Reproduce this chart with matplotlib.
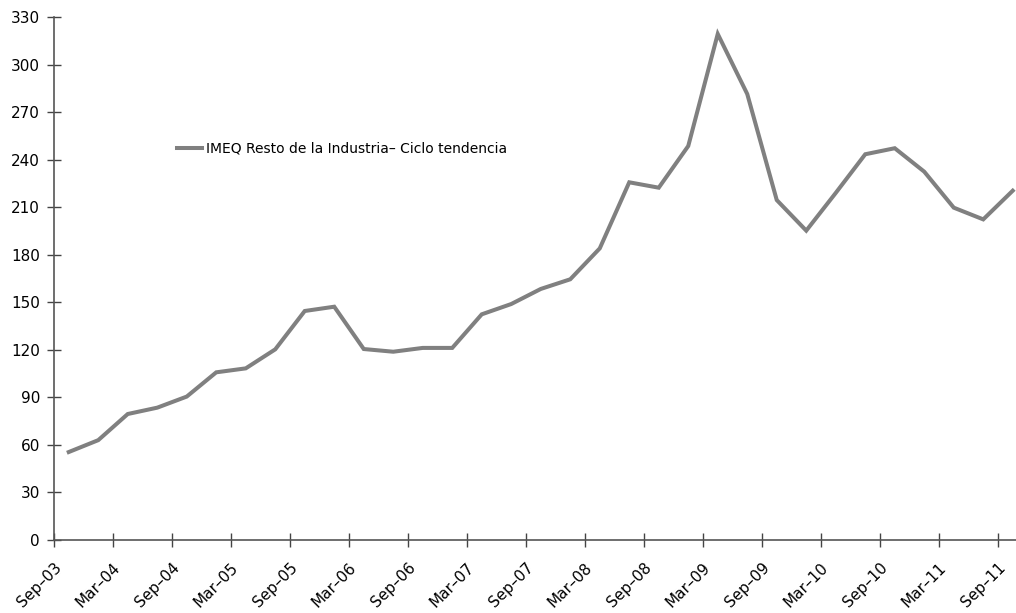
import matplotlib
matplotlib.use("Agg")
import matplotlib.pyplot as plt
import matplotlib.transforms as mtransforms
import numpy as np

# Quarterly data, Sep-03 .. Sep-11 (33 quarters)
values = [55.5, 63, 79.5, 83.5, 90.5, 105.8, 108.3, 120.3, 144.5, 147.2,
          120.5, 118.8, 121.2, 121.2, 142.4, 148.9, 158.4, 164.5, 184.0, 225.7,
          222.3, 248.6, 319.3, 281.4, 214.5, 195.2, 219.0, 243.4, 247.2, 232.4,
          209.7, 202.3, 220.4]
tick_labels = ["Sep–03", "Mar–04", "Sep–04", "Mar–05", "Sep–05", "Mar–06",
               "Sep–06", "Mar–07", "Sep–07", "Mar–08", "Sep–08", "Mar–09",
               "Sep–09", "Mar–10", "Sep–10", "Mar–11", "Sep–11"]
series_name = "IMEQ Resto de la Industria– Ciclo tendencia"
yticks = list(range(0, 331, 30))

plt.rcParams['font.family'] = ['DejaVu Sans']

fig = plt.figure(figsize=(10.16, 6.13), dpi=100)
ax = fig.add_axes([54/1016, 73/613, 1 - 54/1016, (540-17)/613])

x = np.arange(len(values))
line, = ax.plot(x, values, color="#808080", lw=2.9, solid_joinstyle='miter',
                label=series_name)

ax.set_ylim(0, 330)
ax.set_xlim(-0.5, -0.5 + (1016 - 54) / 29.5)
ax.set_yticks(yticks)
ax.set_yticklabels([str(v) for v in yticks], fontsize=11)

tick_pos = [-0.5 + 2 * k for k in range(len(tick_labels))]
ax.set_xticks(tick_pos)
ax.set_xticklabels(tick_labels, rotation=45, ha='right', va='center',
                   rotation_mode='anchor', fontsize=11)

for s in ['top', 'right']:
    ax.spines[s].set_visible(False)
for s in ['left', 'bottom']:
    ax.spines[s].set_color('#555555')
    ax.spines[s].set_linewidth(1.2)
ax.tick_params(axis='both', direction='inout', length=10, width=1.0,
               color='#444444', labelcolor='black')
ax.tick_params(axis='y', pad=5)
ax.tick_params(axis='x', pad=13)

offset = mtransforms.ScaledTranslation(5/100, 0, fig.dpi_scale_trans)
for lbl in ax.get_xticklabels():
    lbl.set_transform(lbl.get_transform() + offset)

fig.legend(handles=[line], loc='center left',
           bbox_to_anchor=(177/1016, 1 - 149/613), frameon=False,
           borderpad=0, borderaxespad=0, handlelength=1.8, handletextpad=0.3,
           fontsize=10)

fig.savefig("out.png", dpi=100)
